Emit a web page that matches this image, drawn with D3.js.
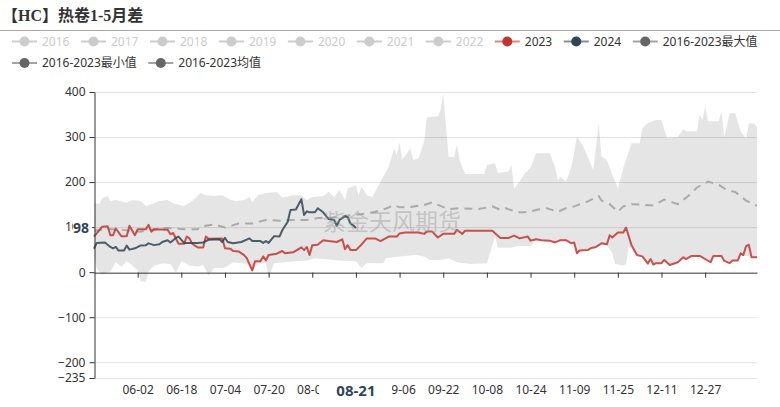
<!DOCTYPE html>
<html>
<head>
<meta charset="utf-8">
<script src="https://cdn.jsdelivr.net/npm/d3@7"></script>
<style>
  html, body { margin: 0; padding: 0; background: #fff; }
  svg { display: block; font-family: "Microsoft YaHei", "Noto Sans", "Noto Sans CJK SC", sans-serif; }
</style>
</head>
<body>
<svg id="chart" width="780" height="407"></svg>
<script>
// categories: every calendar day 05-17 .. 01-15
const categories = d3.timeDay.range(new Date(2024, 4, 17), new Date(2025, 0, 16)).map(d3.timeFormat("%m-%d"));
const xTickLabels = ["06-02","06-18","07-04","07-20","08-05","08-21","09-06","09-22","10-08","10-24","11-09","11-25","12-11","12-27"];
const yTickValues = [400, 300, 200, 100, 0, -100, -200, -235];
const legendNames = ["2016","2017","2018","2019","2020","2021","2022","2023","2024","2016-2023最大值","2016-2023最小值","2016-2023均值"];

const series2023 = [
  ["05-17",79],["05-20",101],["05-22",102],["05-23",82],["05-24",82],["05-25",97],["05-27",80],["05-29",80],["05-30",103],
  ["06-01",82],["06-02",95],["06-05",95],["06-06",105],["06-07",90],["06-08",95],["06-13",94],["06-14",84],["06-15",87],
  ["06-17",63],["06-19",63],["06-20",79],["06-21",75],["06-22",63],["06-24",55],["06-26",55],["06-27",79],["06-28",74],
  ["07-03",75],["07-04",53],["07-06",52],["07-07",47],["07-09",46],["07-11",38],["07-12",31],["07-14",4],["07-15",24],
  ["07-17",24],["07-18",35],["07-19",26],["07-20",38],["07-23",41],["07-25",47],["07-26",42],["07-29",44],["08-01",55],
  ["08-02",49],["08-03",56],["08-04",38],["08-05",60],["08-07",61],["08-09",71],["08-11",69],["08-14",67],["08-16",73],
  ["08-17",51],["08-18",60],["08-19",49],["08-21",49],["08-23",61],["08-25",75],["08-28",75],["08-30",69],["09-02",79],
  ["09-05",79],["09-06",86],["09-08",88],["09-13",88],["09-15",85],["09-16",90],["09-18",90],["09-20",77],["09-22",85],
  ["09-26",85],["09-27",94],["09-29",85],["09-30",92],["10-10",92],["10-12",81],["10-13",76],["10-16",76],["10-18",81],
  ["10-20",75],["10-23",79],["10-24",70],["10-26",73],["10-28",71],["10-31",70],["11-02",66],["11-04",71],["11-06",71],
  ["11-08",64],["11-09",66],["11-10",42],["11-11",48],["11-14",49],["11-15",53],["11-17",56],["11-19",64],["11-21",62],
  ["11-22",82],["11-23",77],["11-25",88],["11-27",88],["11-28",99],["11-30",60],["12-02",38],["12-04",35],["12-06",19],
  ["12-07",29],["12-08",17],["12-09",20],["12-11",20],["12-12",27],["12-14",16],["12-17",22],["12-19",33],["12-20",29],
  ["12-22",36],["12-25",36],["12-29",22],["12-30",36],["01-02",36],["01-03",25],["01-05",20],["01-06",26],["01-08",26],
  ["01-09",42],["01-10",38],["01-11",58],["01-12",61],["01-13",33],["01-15",33]
];

const series2024 = [
  ["05-17",52],["05-18",65],["05-21",66],["05-23",56],["05-24",53],["05-25",56],["05-26",48],["05-28",48],["05-29",59],
  ["05-30",50],["06-01",53],["06-03",59],["06-05",60],["06-06",64],["06-08",60],["06-10",62],["06-11",67],["06-13",71],
  ["06-14",66],["06-15",71],["06-16",76],["06-17",79],["06-19",65],["06-24",65],["06-26",66],["06-28",72],["07-02",73],
  ["07-03",67],["07-04",76],["07-05",67],["07-07",64],["07-10",67],["07-13",75],["07-14",69],["07-17",69],["07-18",65],
  ["07-19",69],["07-20",65],["07-22",80],["07-24",79],["07-25",93],["07-27",112],["07-28",138],["07-30",139],["08-01",162],
  ["08-02",127],["08-03",135],["08-04",133],["08-06",133],["08-07",142],["08-09",133],["08-11",118],["08-13",116],["08-14",103],
  ["08-15",116],["08-17",124],["08-18",122],["08-19",108],["08-20",104],["08-21",98]
];

const seriesMean = [
  ["05-17",92],["05-22",96],["05-27",94],["06-03",90],["06-09",96],["06-13",98],["06-19",95],["06-24",95],["06-25",101],
  ["06-30",106],["07-04",99],["07-09",108],["07-14",108],["07-19",116],["07-24",114],["07-29",116],["08-03",116],["08-07",120],
  ["08-12",121],["08-16",124],["08-20",127],["08-25",130],["08-28",134],["09-01",141],["09-04",149],["09-06",144],["09-09",144],
  ["09-15",149],["09-18",155],["09-21",147],["09-24",140],["09-28",142],["10-05",140],["10-10",146],["10-13",138],["10-15",142],
  ["10-19",133],["10-23",133],["10-26",138],["10-30",142],["11-03",134],["11-06",142],["11-09",146],["11-14",157],["11-18",169],
  ["11-19",159],["11-22",151],["11-25",134],["11-27",146],["11-30",151],["12-03",150],["12-08",148],["12-12",161],["12-15",155],
  ["12-17",151],["12-21",170],["12-24",188],["12-28",201],["01-01",194],["01-04",182],["01-07",178],["01-11",159],["01-15",147]
];

const seriesMax = [
  ["05-17",153],["05-19",152],["05-20",164],["05-22",169],["05-23",158],["05-25",160],["05-29",154],["05-31",160],["06-03",158],
  ["06-05",147],["06-08",153],["06-10",158],["06-13",160],["06-15",153],["06-19",147],["06-22",158],["06-25",176],["06-27",171],
  ["06-30",169],["07-03",171],["07-06",161],["07-08",158],["07-11",160],["07-13",167],["07-14",156],["07-16",171],["07-19",176],
  ["07-23",178],["07-25",166],["07-29",171],["08-01",171],["08-03",160],["08-05",167],["08-09",169],["08-11",178],["08-13",167],
  ["08-15",182],["08-17",160],["08-18",186],["08-21",193],["08-22",171],["08-23",190],["08-25",171],["08-27",167],["08-30",201],
  ["09-02",234],["09-04",275],["09-05",260],["09-06",288],["09-07",250],["09-10",275],["09-11",249],["09-13",253],["09-15",290],
  ["09-16",344],["09-20",346],["09-21",360],["09-22",396],["09-23",324],["09-24",256],["09-26",255],["09-27",283],["09-28",249],
  ["09-30",218],["10-07",218],["10-08",238],["10-11",242],["10-12",220],["10-16",224],["10-17",238],["10-18",186],["10-20",201],
  ["10-22",220],["10-24",231],["10-26",264],["10-31",264],["11-02",234],["11-03",204],["11-04",212],["11-06",201],["11-08",234],
  ["11-10",301],["11-12",283],["11-14",256],["11-16",227],["11-18",330],["11-19",256],["11-21",249],["11-23",216],["11-25",186],
  ["11-27",231],["11-28",249],["11-30",286],["12-03",286],["12-04",320],["12-06",331],["12-09",338],["12-11",338],["12-13",298],
  ["12-17",300],["12-19",318],["12-20",313],["12-24",313],["12-25",350],["12-26",338],["12-27",368],["12-28",335],["01-01",335],
  ["01-02",357],["01-03",301],["01-05",353],["01-07",353],["01-09",313],["01-11",296],["01-12",330],["01-14",330],["01-15",322]
];

const seriesMin = [
  ["05-17",40],["05-18",8],["05-20",-6],["05-23",2],["05-25",22],["05-27",12],["05-29",24],["05-31",15],["06-02",5],
  ["06-03",-20],["06-05",-22],["06-06",2],["06-08",14],["06-11",20],["06-14",18],["06-16",-2],["06-18",24],["06-21",15],
  ["06-24",12],["06-26",16],["06-28",-8],["06-30",9],["07-04",10],["07-07",22],["07-10",20],["07-12",18],["07-14",0],
  ["07-16",20],["07-19",20],["07-20",-10],["07-22",20],["07-26",22],["07-30",24],["08-03",26],["08-06",31],["08-11",28],
  ["08-15",26],["08-21",24],["08-23",9],["08-25",20],["08-31",20],["09-01",31],["09-06",35],["09-12",38],["09-15",35],
  ["09-17",27],["09-21",27],["09-24",31],["09-27",22],["10-02",18],["10-08",20],["10-09",40],["10-11",79],["10-12",54],
  ["10-17",54],["10-19",58],["10-24",58],["10-26",71],["10-28",71],["10-31",70],["11-02",66],["11-04",71],["11-06",71],
  ["11-08",64],["11-09",66],["11-10",42],["11-11",48],["11-14",49],["11-15",53],["11-17",56],["11-19",62],["11-21",60],
  ["11-23",42],["11-24",18],["11-27",15],["11-28",18],["11-29",57],["12-02",38],["12-04",35],["12-06",19],["12-07",29],
  ["12-08",17],["12-09",20],["12-11",20],["12-12",27],["12-14",16],["12-17",22],["12-19",33],["12-20",29],["12-22",36],
  ["12-25",36],["12-29",22],["12-30",36],["01-02",36],["01-03",25],["01-05",20],["01-06",26],["01-08",26],["01-09",36],
  ["01-12",36],["01-13",33],["01-15",33]
];

const svg = d3.select("#chart");
const x = d3.scalePoint().domain(categories).range([94, 757]);
const y = d3.scaleLinear().domain([-235, 400]).range([378, 92]);
const line = d3.line().x(d => x(d[0])).y(d => y(d[1]));

// title
svg.append("text").attr("x", 2).attr("y", 21)
  .attr("font-family", "'Liberation Serif', 'Noto Sans CJK SC', serif")
  .attr("font-size", 16).attr("font-weight", "bold").attr("fill", "#333")
  .text("【HC】热卷1-5月差");
svg.append("line").attr("x1", 0).attr("x2", 780).attr("y1", 30.5).attr("y2", 30.5)
  .attr("stroke", "#aaa").attr("stroke-width", 1);

// legend
const legendColor = {"2023": "#c23531", "2024": "#2f4554"};
const legend = svg.append("g");
let lx = 12, ly = 41.5;
legendNames.forEach((name, i) => {
  if (i === 10) { lx = 12; ly = 63; }
  const off = name.length === 4 && +name < 2023;
  const c = off ? "#ccc" : (legendColor[name] || "#666");
  const g = legend.append("g").attr("transform", `translate(${lx},${ly})`);
  g.append("line").attr("x1", 0).attr("x2", 25).attr("y1", 0).attr("y2", 0)
    .attr("stroke", off ? "#ccc" : c).attr("stroke-opacity", off ? 1 : 0.6).attr("stroke-width", 2);
  g.append("circle").attr("cx", 12.5).attr("cy", 0).attr("r", 5).attr("fill", c);
  const t = g.append("text").attr("x", 30).attr("y", 0).attr("dy", "0.35em")
    .attr("font-size", 12).attr("fill", off ? "#ccc" : "#333").text(name);
  lx += 30 + t.node().getComputedTextLength() + 11.5;
});

// grid
svg.append("g").selectAll("line").data(yTickValues.filter(v => v !== 0)).join("line")
  .attr("x1", 94).attr("x2", 757).attr("y1", d => y(d) + 0.5).attr("y2", d => y(d) + 0.5)
  .attr("stroke", "#e3e3e3").attr("stroke-width", 1);

// min-max band
svg.append("path")
  .attr("d", line(seriesMax.concat(seriesMin.slice().reverse())) + "Z")
  .attr("fill", "rgba(0,0,0,0.1)").attr("stroke", "none");

// mean
svg.append("path").attr("d", line(seriesMean))
  .attr("fill", "none").attr("stroke", "#aaa").attr("stroke-width", 2).attr("stroke-dasharray", "8,6");

svg.append("path").attr("d", line(series2023))
  .attr("fill", "none").attr("stroke", "#c23531").attr("stroke-opacity", 0.85).attr("stroke-width", 2)
  .attr("stroke-linejoin", "round");
svg.append("path").attr("d", line(series2024))
  .attr("fill", "none").attr("stroke", "#2f4554").attr("stroke-opacity", 0.85).attr("stroke-width", 2)
  .attr("stroke-linejoin", "round");

// axes
const yAxis = svg.append("g").attr("transform", "translate(94.5,0)")
  .call(d3.axisLeft(y).tickValues(yTickValues).tickSize(5).tickSizeOuter(0).tickPadding(4));
const xAxis = svg.append("g").attr("transform", `translate(0,${y(0) + 0.5})`)
  .call(d3.axisBottom(x).tickValues(xTickLabels).tickSize(5).tickSizeOuter(0).tickPadding(108));
[yAxis, xAxis].forEach(a => {
  a.selectAll("path, line").attr("stroke", "#333");
  a.selectAll("text").attr("fill", "#333").attr("font-size", 12)
    .attr("font-family", "'Microsoft YaHei', 'Noto Sans', sans-serif");
});

// watermark
svg.append("text").attr("x", 323).attr("y", 230)
  .attr("font-size", 23).attr("fill", "#999").attr("fill-opacity", 0.45)
  .attr("font-family", "'Noto Sans CJK SC', sans-serif")
  .text("紫金天风期货");

// axis pointer labels at the last 2024 value
const last = series2024[series2024.length - 1];
svg.append("rect").attr("x", 73).attr("y", y(last[1]) - 9).attr("width", 19).attr("height", 18).attr("fill", "#fff");
svg.append("text").attr("x", 89).attr("y", y(last[1])).attr("dy", "0.35em").attr("text-anchor", "end")
  .attr("font-size", 14).attr("font-weight", "bold").attr("fill", "#2f4554").text(last[1]);
svg.append("rect").attr("x", x(last[0]) - 37).attr("y", 381).attr("width", 73).attr("height", 20).attr("fill", "#fff");
svg.append("text").attr("x", x(last[0])).attr("y", 396).attr("text-anchor", "middle")
  .attr("font-size", 15).attr("font-weight", "bold").attr("fill", "#2f4554").text(last[0]);
</script>
</body>
</html>
